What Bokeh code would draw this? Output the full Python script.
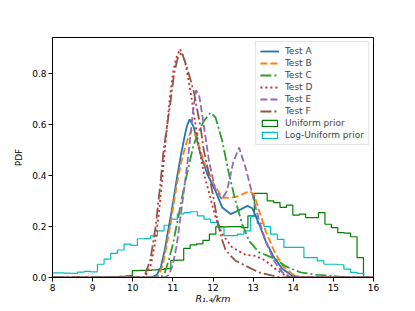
import numpy as np
from bokeh.plotting import figure
from bokeh.models import (Range1d, FixedTicker, PrintfTickFormatter, Legend, LegendItem)
from bokeh.embed import file_html
from bokeh.resources import INLINE

# ---- data ----
a_x = [8.0, 10.45, 10.6, 10.7, 10.8, 10.9, 11.0, 11.1, 11.2, 11.3, 11.36, 11.42, 11.52, 11.69, 11.86, 12.06, 12.23, 12.44, 12.65, 12.86, 12.98, 13.15, 13.31, 13.52, 13.73, 13.98, 14.2, 16.0]
a_y = [0, 0, 0.01, 0.04, 0.11, 0.2, 0.29, 0.39, 0.48, 0.56, 0.6, 0.621, 0.59, 0.484, 0.405, 0.34, 0.275, 0.249, 0.264, 0.281, 0.272, 0.209, 0.144, 0.079, 0.033, 0.007, 0, 0]

b_x = [8.0, 10.55, 10.65, 10.75, 10.85, 10.95, 11.05, 11.15, 11.25, 11.36, 11.46, 11.54, 11.61, 11.77, 12.02, 12.23, 12.44, 12.65, 12.9, 13.02, 13.15, 13.31, 13.52, 13.73, 13.98, 14.2, 16.0]
b_y = [0, 0, 0.01, 0.05, 0.13, 0.22, 0.32, 0.41, 0.48, 0.54, 0.578, 0.565, 0.536, 0.457, 0.366, 0.314, 0.312, 0.32, 0.34, 0.327, 0.262, 0.183, 0.105, 0.046, 0.013, 0, 0]

c_x = [8.0, 10.7, 10.8, 10.9, 11.0, 11.1, 11.2, 11.3, 11.4, 11.5, 11.61, 11.77, 11.94, 12.065, 12.23, 12.4, 12.56, 12.73, 12.9, 13.15, 13.31, 13.56, 13.8, 14.18, 14.6, 14.93, 15.3, 16.0]
c_y = [0, 0, 0.02, 0.07, 0.13, 0.21, 0.29, 0.37, 0.44, 0.51, 0.562, 0.614, 0.647, 0.628, 0.536, 0.405, 0.301, 0.209, 0.144, 0.098, 0.089, 0.072, 0.045, 0.02, 0.01, 0.007, 0, 0]

d_x = [8.0, 10.3, 10.45, 10.55, 10.65, 10.73, 10.8, 10.86, 10.92, 11.0, 11.08, 11.18, 11.3, 11.44, 11.61, 11.69, 11.77, 11.94, 12.065, 12.23, 12.48, 12.81, 13.06, 13.31, 13.56, 13.81, 14.0, 16.0]
d_y = [0, 0, 0.05, 0.13, 0.25, 0.38, 0.5, 0.6, 0.7, 0.8, 0.86, 0.897, 0.85, 0.73, 0.55, 0.48, 0.41, 0.31, 0.235, 0.17, 0.118, 0.089, 0.085, 0.066, 0.033, 0.007, 0, 0]

e_x = [8.0, 10.8, 10.9, 11.0, 11.1, 11.2, 11.3, 11.4, 11.5, 11.58, 11.66, 11.75, 11.9, 12.05, 12.22, 12.35, 12.5, 12.65, 12.81, 12.98, 13.15, 13.31, 13.52, 13.73, 13.95, 16.0]
e_y = [0, 0, 0.01, 0.05, 0.13, 0.25, 0.37, 0.5, 0.65, 0.735, 0.71, 0.62, 0.457, 0.35, 0.307, 0.34, 0.45, 0.51, 0.432, 0.327, 0.222, 0.144, 0.065, 0.02, 0, 0]

f_x = [8.0, 10.28, 10.44, 10.57, 10.69, 10.77, 10.86, 10.95, 11.03, 11.12, 11.22, 11.36, 11.52, 11.69, 11.77, 11.9, 11.98, 12.1, 12.2, 12.31, 12.44, 12.56, 12.81, 13.15, 13.48, 13.7, 16.0]
f_y = [0, 0, 0.07, 0.2, 0.37, 0.5, 0.6, 0.7, 0.8, 0.86, 0.885, 0.82, 0.73, 0.59, 0.5, 0.405, 0.34, 0.235, 0.16, 0.11, 0.085, 0.066, 0.046, 0.02, 0.007, 0, 0]

# Uniform prior histogram: first edge, bin width, heights
uni_start = 9.03
uni_width = 0.16
uni_heights = [0.002, 0.002, 0.003, 0.004, 0.005, 0.006, 0.027, 0.028, 0.028, 0.03,
               0.032, 0.035, 0.067, 0.068, 0.114, 0.128, 0.132, 0.146, 0.17, 0.2,
               0.199, 0.2, 0.2, 0.196, 0.242, 0.33, 0.33, 0.301, 0.294, 0.275,
               0.284, 0.245, 0.249, 0.235, 0.235, 0.255, 0.209, 0.196, 0.176, 0.174,
               0.16, 0.078]

# Log-Uniform prior histogram
log_start = 7.958
log_width = 0.166
log_heights = [0.018, 0.018, 0.017, 0.016, 0.021, 0.024, 0.022, 0.052, 0.072, 0.095,
               0.108, 0.131, 0.126, 0.152, 0.153, 0.163, 0.183, 0.205, 0.229, 0.25,
               0.255, 0.258, 0.242, 0.229, 0.216, 0.196, 0.164, 0.164, 0.17, 0.183,
               0.24, 0.212, 0.2, 0.17, 0.15, 0.118, 0.118, 0.118, 0.078, 0.078,
               0.065, 0.052, 0.052, 0.05, 0.033, 0.02, 0.016]

x_ticks = [8, 9, 10, 11, 12, 13, 14, 15, 16]
y_ticks = [0.0, 0.2, 0.4, 0.6, 0.8]

FONT = "DejaVu Sans"

def step_outline(start, width, heights):
    edges = start + width * np.arange(len(heights) + 1)
    xs, ys = [edges[0]], [0.0]
    for i, h in enumerate(heights):
        xs += [edges[i], edges[i + 1]]
        ys += [h, h]
    xs.append(edges[-1]); ys.append(0.0)
    return xs, ys

p = figure(width=407, height=308, output_backend="svg", toolbar_location=None,
           x_range=Range1d(8, 16), y_range=Range1d(0, 0.942),
           min_border_left=52, min_border_right=34, min_border_top=37, min_border_bottom=31)
p.xgrid.visible = False
p.ygrid.visible = False
p.outline_line_color = "black"
p.outline_line_width = 1
p.background_fill_color = "white"
p.border_fill_color = "white"

for ax in (p.xaxis[0], p.yaxis[0]):
    ax.major_tick_out = 4
    ax.major_tick_in = 0
    ax.minor_tick_out = 0
    ax.minor_tick_in = 0
    ax.major_label_text_font = FONT
    ax.major_label_text_font_size = "9px"
    ax.major_label_text_color = "black"
    ax.axis_line_color = "black"
    ax.major_tick_line_color = "black"
    ax.major_label_standoff = 2
    ax.axis_label_text_font = FONT
    ax.axis_label_text_font_size = "9px"
    ax.axis_label_text_color = "black"

p.xaxis.ticker = FixedTicker(ticks=x_ticks)
p.yaxis.ticker = FixedTicker(ticks=y_ticks)
p.yaxis.formatter = PrintfTickFormatter(format="%.1f")
p.yaxis.axis_label = "PDF"
p.yaxis.axis_label_text_font_style = "normal"
p.yaxis.axis_label_standoff = 5
p.xaxis.axis_label = "R\u2081.\u2084/km"
p.xaxis.axis_label_text_font_style = "italic"
p.xaxis.axis_label_text_font_size = "9.5px"
p.xaxis.axis_label_standoff = -1

# histograms (drawn below the lines)
ux, uy = step_outline(uni_start, uni_width, uni_heights)
lx, ly = step_outline(log_start, log_width, log_heights)
r_uni = p.patch(ux, uy, fill_color=None, line_color="#008000", line_width=1.2)
r_log = p.patch(lx, ly, fill_color=None, line_color="#00bfbf", line_width=1.2)

LW = 1.8
r_a = p.line(a_x, a_y, line_color="#1f77b4", line_width=LW)
r_b = p.line(b_x, b_y, line_color="#ff7f0e", line_width=LW, line_dash="7 3")
r_c = p.line(c_x, c_y, line_color="#2ca02c", line_width=LW, line_dash="11 3 2 3")
r_d = p.line(d_x, d_y, line_color="#d62728", line_width=LW, line_dash="2 3")
r_e = p.line(e_x, e_y, line_color="#9467bd", line_width=LW, line_dash="7 3")
r_f = p.line(f_x, f_y, line_color="#8c564b", line_width=LW, line_dash="11 3 2 3")

legend = Legend(items=[
    LegendItem(label="Test A", renderers=[r_a]),
    LegendItem(label="Test B", renderers=[r_b]),
    LegendItem(label="Test C", renderers=[r_c]),
    LegendItem(label="Test D", renderers=[r_d]),
    LegendItem(label="Test E", renderers=[r_e]),
    LegendItem(label="Test F", renderers=[r_f]),
    LegendItem(label="Uniform prior", renderers=[r_uni]),
    LegendItem(label="Log-Uniform prior", renderers=[r_log]),
], location="top_right")
legend.margin = 4
legend.padding = 4
legend.spacing = 2
legend.glyph_width = 19
legend.glyph_height = 8
legend.label_height = 8
legend.label_standoff = 6
legend.label_text_font = FONT
legend.label_text_font_size = "9px"
legend.label_text_baseline = "middle"
legend.border_line_color = "#cccccc"
legend.border_line_width = 1
legend.background_fill_alpha = 0.8
p.add_layout(legend)

open("out.html", "w").write(file_html(p, INLINE))
